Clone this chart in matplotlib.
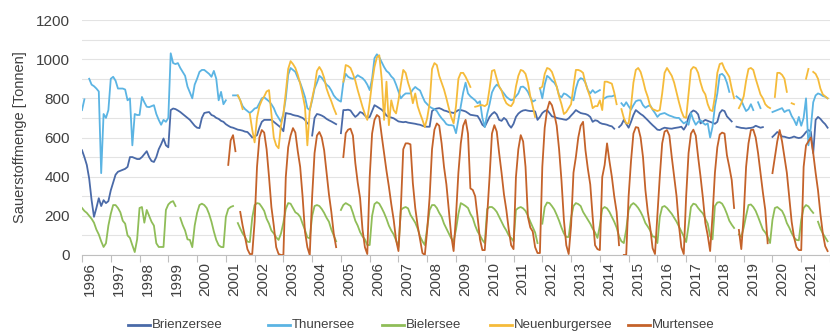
import numpy as np
import matplotlib
matplotlib.use('Agg')
import matplotlib.pyplot as plt
from matplotlib.lines import Line2D

N = None

years = list(range(1996, 2022))
lakes = ['Brienzersee', 'Thunersee', 'Bielersee', 'Neuenburgersee', 'Murtensee']
colors = ['#4a6aa8', '#5bb4e3', '#8fbd58', '#f5bb3a', '#c4622a']

# monthly oxygen content [t], Jan 1996 - Dec 2021
brienzersee = [
    535, 500, 460, 390, 280, 195, 240, 290, 250, 280, 265, 275,
    330, 370, 410, 425, 430, 435, 440, 450, 500, 500, 495, 490,
    490, 500, 515, 530, 500, 480, 475, 500, 540, 565, 595, 560,
    550, 740, 748, 745, 738, 730, 720, 710, 700, 690, 675, 660,
    650, 648, 700, 725, 728, 730, 715, 710, 700, 695, 685, 680,
    668, 660, 653, 650, 645, 640, 638, 635, 630, 628, 615, 600,
    605, 612, 650, 680, 690, 690, 690, 690, 680, 670, 660, 650,
    632, 725, 722, 720, 715, 712, 710, 705, 700, 690, 672, N,
    610, 700, 720, 717, 712, 705, 695, 688, 682, 675, 668, N,
    622, 740, 740, 742, 738, 720, 705, 715, 730, 725, 712, 700,
    705, 735, 765, 758, 750, 742, 730, 712, 705, 702, 698, 690,
    682, 680, 678, 680, 676, 674, 672, 670, 667, 665, 660, 656,
    655, 655, 735, 745, 748, 750, 745, 738, 735, 730, 728, 725,
    732, 740, 740, 737, 733, 725, 716, 714, 712, 710, 690, 665,
    655, 680, 705, 720, 730, 718, 690, 685, 700, 690, 665, 650,
    670, 705, 722, 732, 738, 740, 737, 735, 735, 733, 690, 705,
    725, 735, 740, 725, 708, 705, 700, 697, 695, 692, 690, 698,
    712, 725, 740, 732, 725, 722, 720, 715, 705, 680, 688, 685,
    675, 670, 668, 665, 660, 657, 645, N, 653, 665, 690, 670,
    650, 680, 715, 740, 730, 720, 712, 700, 688, 675, 663, 652,
    640, 638, 645, 650, 648, 646, 645, 648, 650, 652, 655, 640,
    660, 705, 728, 738, 732, 718, 672, 682, 690, 685, 680, 675,
    670, 680, 725, 740, 735, 708, 695, 682, N, 655, 652, 649,
    648, 646, 648, 649, 652, 660, 655, 650, 653, N, N, N,
    603, 615, 628, 620, 605, 604, 600, 597, 600, 605, 600, 597,
    600, 612, 628, 638, 630, 520, 690, 705, 695, 680, 668, 650,
]

thunersee = [
    740, 795, N, 900, 870, 862, 850, 835, 418, 720, 700, 740,
    900, 910, 890, 850, 850, 850, 845, 790, 800, 560, 720, 715,
    715, 807, 780, 757, 755, 760, 765, 720, 690, 665, 690, 680,
    700, 1030, 980, 975, 980, 955, 935, 915, 860, 830, 800, 870,
    900, 935, 945, 945, 935, 925, 910, 940, 900, 790, 833, 770,
    790, N, N, 815, 815, 815, 790, 760, 745, 735, 725, 735,
    748, 752, 775, 800, 805, 795, 785, 770, 750, 720, 700, 680,
    720, 800, 920, 955, 945, 935, 905, 880, 845, 807, 750, 740,
    790, 850, 880, 915, 905, 888, 870, 860, 840, 815, 800, 790,
    783, 880, 925, 910, 903, 900, 905, 918, 910, 903, 890, 870,
    842, 900, 1005, 1025, 1010, 985, 960, 940, 930, 912, 900, 870,
    835, 800, 815, 825, 825, 825, 845, 858, 848, 840, 810, 783,
    770, 757, 750, 745, 735, 715, 698, 685, 668, 663, 663, 660,
    622, 690, 760, 830, 880, 825, 810, 800, 790, 775, 785, 700,
    653, 720, 770, 830, 855, 870, 860, 840, 825, 808, 798, 790,
    795, 810, 825, 858, 860, 850, 833, 805, 783, 790, N, 852,
    800, 870, 915, 905, 890, 880, 860, 815, 805, 825, 820, 810,
    800, 790, 850, 890, 903, 898, 880, 842, 825, 842, 828, 835,
    842, N, 800, 808, 810, 810, 815, N, N, 775, 760, 780,
    760, 742, 765, 785, 790, 790, 765, 752, 760, 765, 742, 725,
    705, 718, 722, 725, 718, 712, 708, 703, 700, 700, 685, 672,
    680, 665, 725, 690, 665, 680, 688, 675, 665, 672, 600, 655,
    760, 825, 920, 925, 912, 880, 833, N, N, 810, 800, 790,
    760, 735, 745, 770, 740, N, 780, 750, N, N, N, N,
    730, 735, 740, 745, 750, 730, 738, 740, 710, 690, 663, 705,
    660, 700, 800, 560, 650, 780, 815, 825, 820, 812, 808, 800,
]

bielersee = [
    240, 225, 215, 200, 185, 165, 130, 105, 70, 41, 60, 150,
    210, 255, 255, 240, 218, 175, 160, 100, 87, 50, 15, 80,
    240, 245, 165, 230, 200, 170, 150, 60, 41, 41, 41, 230,
    258, 270, 275, 250, N, 189, 153, 125, 80, 77, 40, 150,
    215, 255, 262, 255, 240, 210, 170, 120, 77, 50, 41, 40,
    194, 235, 245, 250, N, 163, 135, 110, 92, 68, 66, 190,
    255, 265, 262, 245, 225, 185, 160, 125, 110, 90, 77, 110,
    165, 235, 265, 262, 240, 218, 210, 195, 160, 128, 90, 85,
    200, 250, 255, 250, 235, 215, 190, 170, 130, 100, 70, N,
    230, 255, 265, 258, 250, 215, 175, 150, 117, 95, 80, 51,
    51, 200, 260, 270, 262, 240, 215, 185, 150, 125, 105, 75,
    40, 230, 240, 245, 238, 205, 185, 165, 135, 95, 70, 51,
    140, 230, 255, 255, 240, 215, 195, 160, 135, 110, 85, 70,
    130, 210, 265, 258, 250, 240, 210, 189, 150, 120, 100, 77,
    61, 235, 245, 245, 235, 220, 195, 170, 145, 125, 100, 87,
    70, 230, 240, 245, 238, 225, 200, 170, 143, 115, 61, N,
    160, 245, 268, 265, 250, 232, 205, 175, 140, 110, 92, 92,
    190, 250, 265, 260, 250, 220, 200, 180, 160, 135, 115, 87,
    150, 235, 245, 238, 220, 195, 170, 140, 95, 70, 61, 130,
    230, 255, 265, 255, 240, 220, 195, 163, 145, 125, 95, 92,
    61, 194, 245, 250, 240, 225, 210, 190, 170, 145, 120, 95,
    66, 150, 245, 262, 258, 240, 225, 212, 185, 160, 95, 80,
    250, 268, 270, 262, 240, 210, 175, 155, 138, N, 105, 92,
    140, 200, 255, 258, 245, 225, 195, 163, 130, 115, 92, 61,
    180, 240, 245, 235, 225, 200, 163, 140, 112, 90, 77, 75,
    180, 240, 255, 248, 230, 215, N, 170, 135, 110, 90, 70,
]

neuenburgersee = [N] * 60 + [
    N, N, N, N, N, 815, 790, 745, N, N, 720, 640,
    575, 700, 760, 790, 810, 835, 842, 720, 600, 560, 545, 663,
    720, 830, 950, 990, 975, 955, 920, 875, 820, 757, 560, 740,
    800, 858, 940, 960, 940, 905, 850, 815, 785, 750, 720, N,
    N, 885, 970, 965, 955, 925, 890, 842, 800, 757, 720, 690,
    780, 880, 960, 1010, 1020, 900, 690, 885, 663, 790, 740, 723,
    790, 870, 945, 930, 880, 842, 775, 825, 760, 723, 690, 653,
    700, 775, 950, 980, 970, 915, 880, 845, 800, 750, 705, 672,
    760, 900, 930, 930, 910, 885, 858, N, 757, 760, 765, 765,
    760, 770, 850, 940, 945, 900, 860, 840, 800, 775, 765, 760,
    780, 860, 915, 945, 940, 925, 880, 810, 760, 705, N, 850,
    860, 925, 955, 950, 935, 900, 860, 810, 770, 720, 730, 750,
    770, 860, 945, 945, 940, 930, 877, 840, 805, 750, 760, 760,
    790, 740, 885, 885, 880, 875, 830, 770, N, 745, 700, 672,
    672, 760, 880, 945, 955, 935, 893, 842, 807, 760, 745, 740,
    735, 740, 825, 930, 955, 935, 915, 880, 830, 780, 735, 705,
    700, 820, 945, 960, 955, 930, 880, 840, 820, 770, 740, 735,
    810, 930, 975, 980, 950, 930, 910, 850, 800, N, 750, 775,
    810, 890, 950, 955, 945, 900, 860, 820, 800, 770, 757, 750,
    N, 807, 930, 930, 920, 900, 833, N, 775, 770, N, N,
    N, N, 900, 950, N, 935, 925, 900, 850, 820, 810, 800,
]

murtensee = [N] * 60 + [
    N, 460, 585, 612, 530, N, 220, 150, 92, 30, 5, 5,
    170, 450, 600, 638, 625, 540, 400, 245, 150, 40, 5, 0,
    0, 398, 550, 610, 648, 625, 530, 450, 300, 120, 40, 0,
    300, 520, 610, 628, 600, 535, 420, 310, 220, 110, 40, N,
    N, 500, 622, 640, 645, 610, 470, 370, 290, 130, 40, 5,
    398, 620, 690, 715, 705, 610, 520, 430, 350, 260, 180, 77,
    20, 240, 540, 570, 570, 565, 367, 240, 150, 80, 10, 0,
    130, 296, 540, 640, 672, 660, 570, 450, 360, 230, 100, 20,
    200, 420, 570, 660, 690, 620, 340, 332, 300, 194, 80, 25,
    25, 200, 398, 620, 663, 630, 520, 420, 310, 230, 130, 50,
    30, 398, 540, 612, 580, 450, 194, 140, 120, 40, 10, 10,
    450, 650, 740, 783, 765, 720, 660, 540, 380, 180, 50, 5,
    150, 420, 500, 600, 660, 680, 535, 440, 360, 194, 50, 30,
    25, 398, 460, 570, 480, 400, 300, 220, 50, N, 0, 0,
    300, 480, 620, 653, 650, 600, 500, 332, 220, 140, 35, 5,
    200, 400, 570, 630, 638, 610, 500, 400, 300, 150, 40, 5,
    300, 520, 620, 640, 610, 500, 400, 290, 163, 100, 20, 200,
    420, 550, 615, 625, 620, 510, 450, 383, 240, N, 128, 30,
    200, 450, 570, 638, 640, 600, 520, 420, 320, 230, 60, N,
    418, 500, 580, 638, 580, 500, 420, 296, 170, 90, 41, 25,
    25, 450, 560, 580, 600, 520, 420, 330, 210, 110, 45, 20,
]

series = [brienzersee, thunersee, bielersee, neuenburgersee, murtensee]
months = np.arange(len(years) * 12)

plt.rcParams['font.family'] = ['Liberation Sans', 'DejaVu Sans']
text_col = '#404040'
W, H = 830, 335
px_month = 2.41

fig = plt.figure(figsize=(W / 100, H / 100), dpi=100)
# plot area: 1996 starts at x=82 px
ax = fig.add_axes([82 / W, 80 / H, 748 / W, 235 / H])

for vals, col in zip(series, colors):
    ax.plot(months, np.array(vals, dtype=float), color=col, lw=1.3,
            solid_joinstyle='round', zorder=3)

ax.set_xlim(0, 748 / px_month)
ax.set_ylim(0, 1200)
ax.set_yticks(range(0, 1201, 200))
ax.set_yticks(range(100, 1200, 200), minor=True)
ax.grid(axis='y', which='both', color='#e3e3e3', lw=0.8, zorder=0)

ax.set_xticks(np.arange(0, len(years) * 12 + 1, 12))
ax.set_xticklabels([])
# year labels sit a bit right of the year start, about 29 px apart
label_pos = [(8 + 29.0 * k) / px_month for k in range(len(years))]
ax.set_xticks(label_pos, minor=True)
ax.set_xticklabels([str(y) for y in years], minor=True, rotation=90)
ax.tick_params(axis='x', which='major', length=5, color='#bfbfbf', width=0.8)
ax.tick_params(axis='x', which='minor', length=0, pad=5, labelsize=11,
               labelcolor=text_col)
ax.tick_params(axis='y', which='both', length=0, pad=8.5, labelsize=11,
               labelcolor=text_col)

for s in ['top', 'right', 'left']:
    ax.spines[s].set_visible(False)
ax.spines['bottom'].set_color('#bfbfbf')
ax.spines['bottom'].set_linewidth(0.8)

ax.set_ylabel('Sauerstoffmenge [Tonnen]', fontsize=10.5, color=text_col)
ax.yaxis.set_label_coords(-0.074, 0.5)

# legend row below the plot, entries placed like in the original
legend_x = [128, 268, 382, 490, 628]
ly = 1 - 325 / H
for x0, name, col in zip(legend_x, lakes, colors):
    fig.add_artist(Line2D([x0 / W, (x0 + 22) / W], [ly, ly], color=col, lw=2))
    fig.text((x0 + 24) / W, ly, name, fontsize=9.5, color=text_col,
             ha='left', va='center')

fig.savefig('out.png', dpi=100)
